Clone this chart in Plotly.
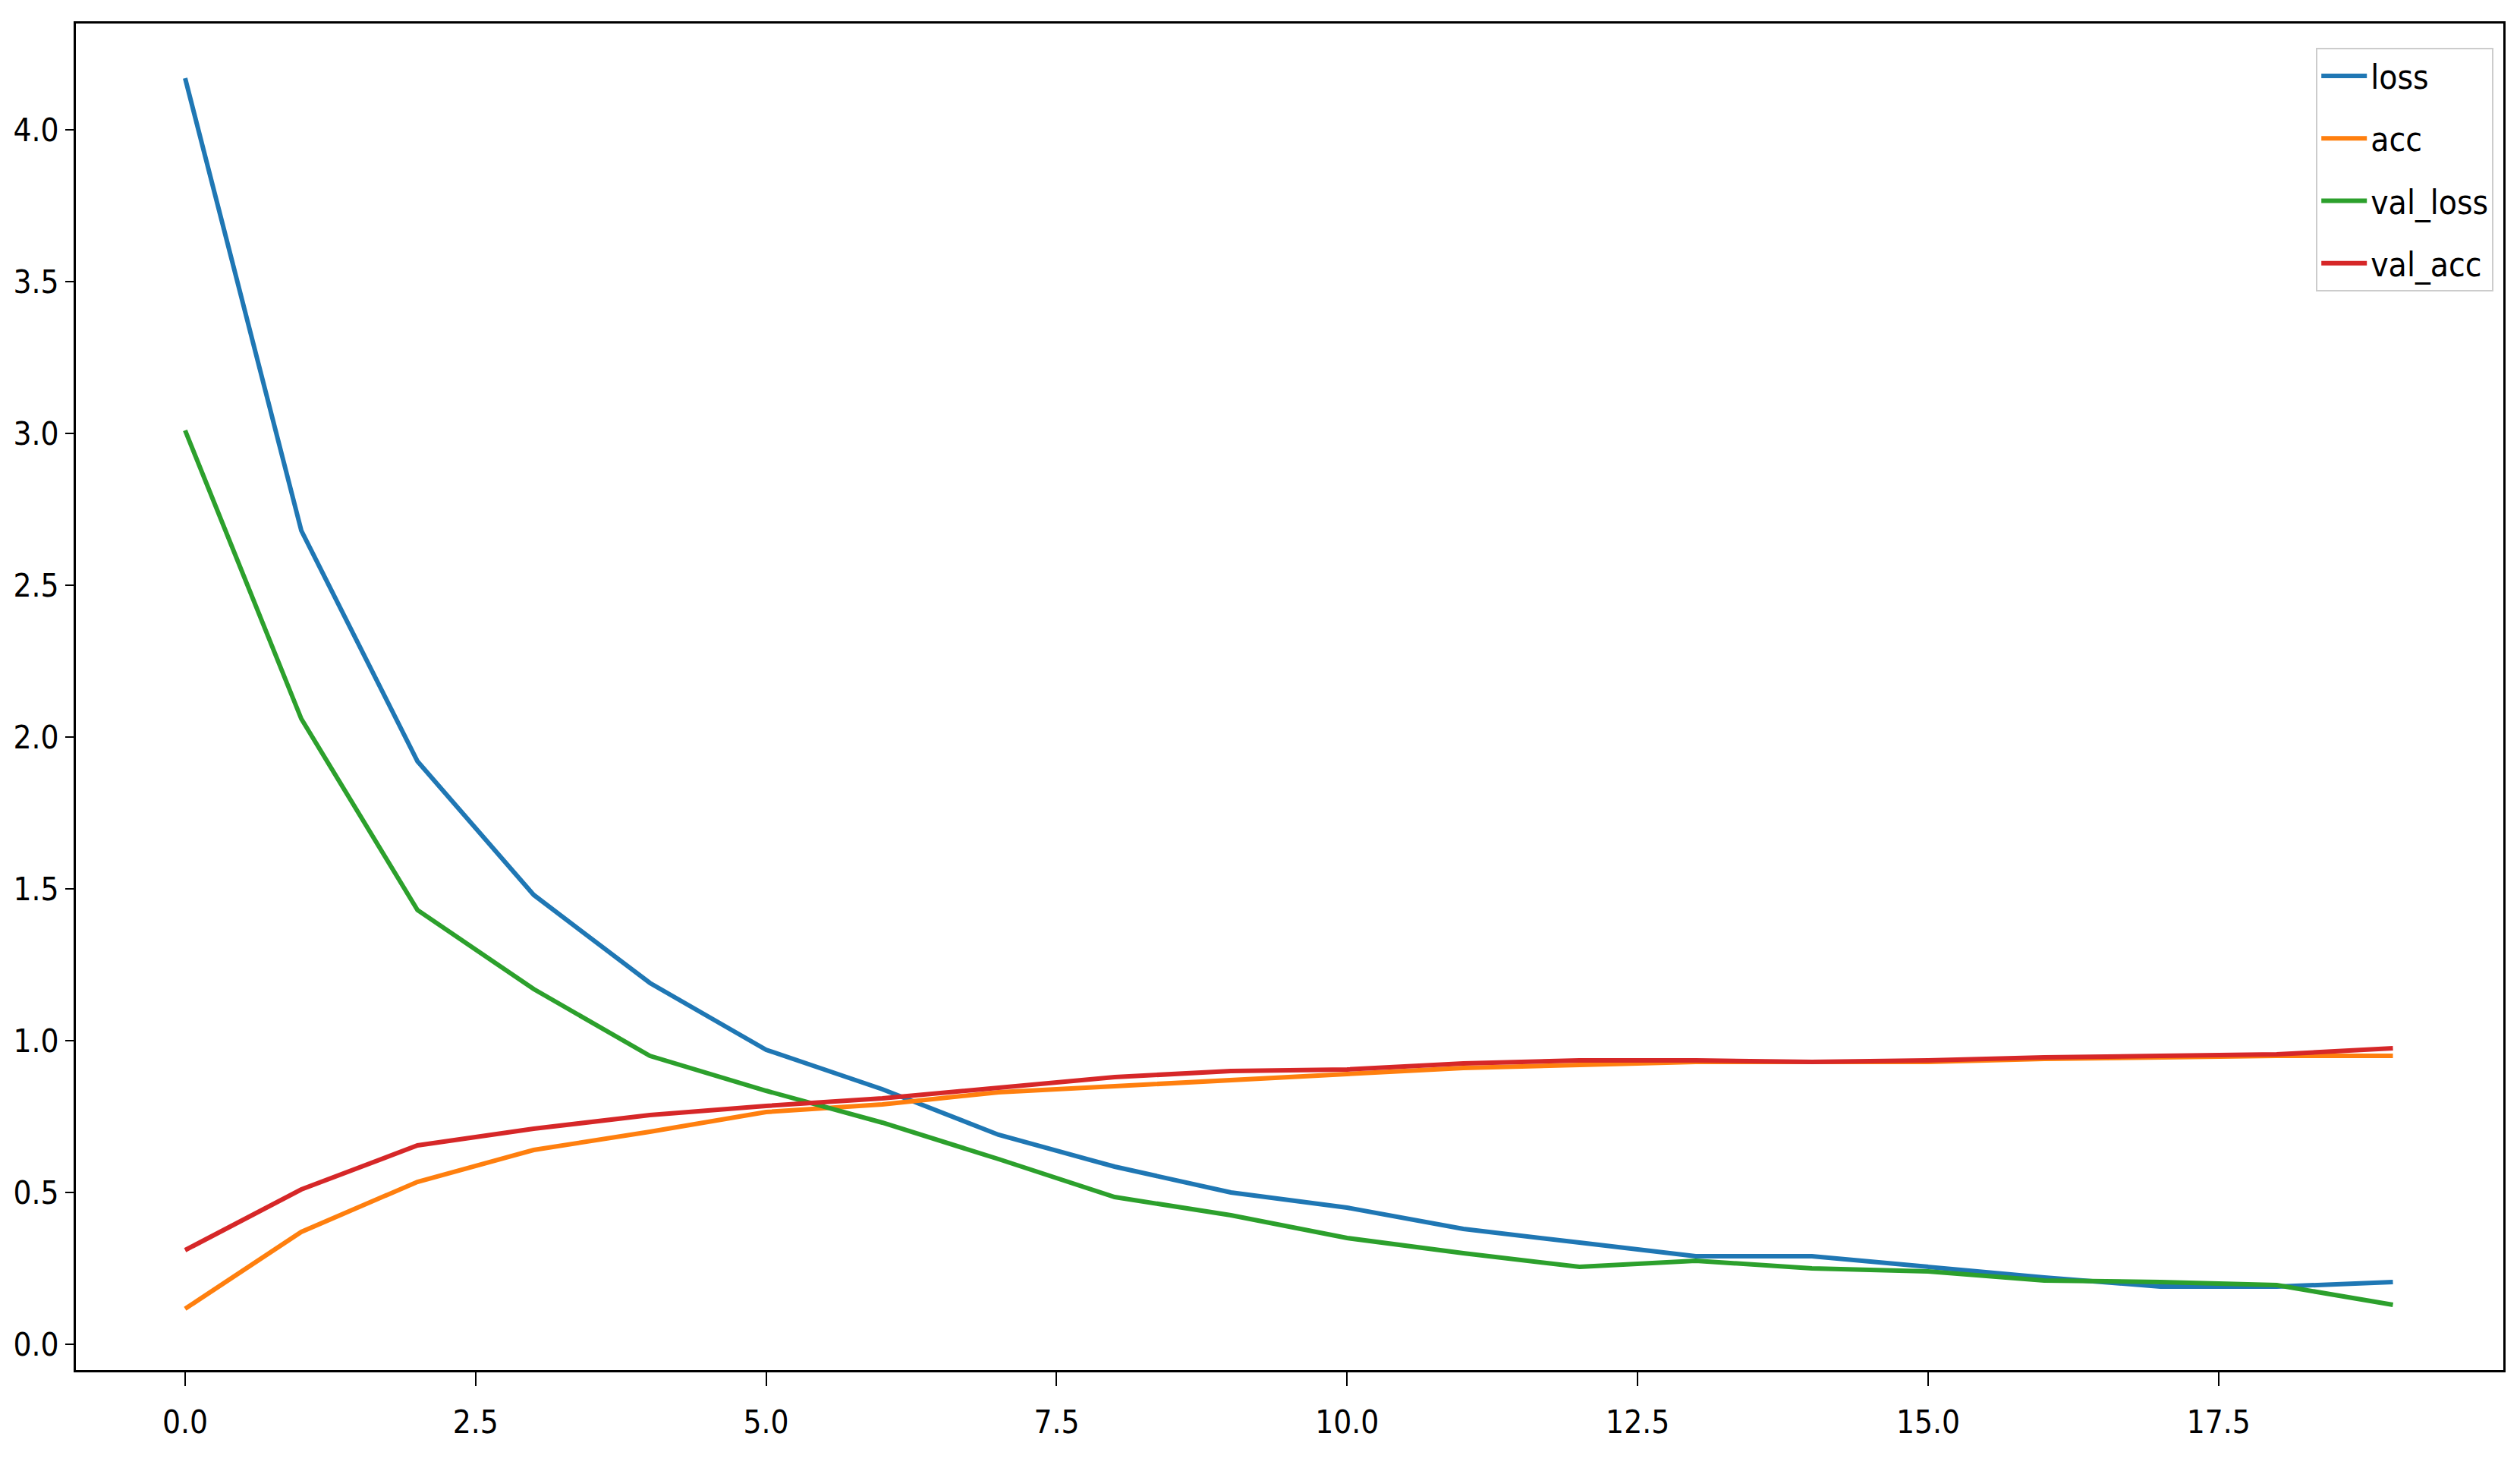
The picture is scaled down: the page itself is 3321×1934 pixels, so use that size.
import plotly.graph_objects as go

epochs = list(range(20))

loss = [4.17, 2.68, 1.92, 1.48, 1.19, 0.97, 0.84, 0.69, 0.585, 0.50,
        0.45, 0.38, 0.335, 0.29, 0.29, 0.255, 0.22, 0.19, 0.19, 0.205]
acc = [0.117, 0.37, 0.535, 0.64, 0.70, 0.765, 0.79, 0.83, 0.85, 0.87,
       0.89, 0.91, 0.92, 0.93, 0.93, 0.93, 0.94, 0.945, 0.95, 0.95]
val_loss = [3.01, 2.06, 1.43, 1.17, 0.95, 0.835, 0.73, 0.61, 0.485, 0.425,
            0.35, 0.30, 0.255, 0.275, 0.25, 0.24, 0.21, 0.205, 0.195, 0.13]
val_acc = [0.31, 0.51, 0.655, 0.71, 0.755, 0.785, 0.81, 0.845, 0.88, 0.90,
           0.905, 0.925, 0.935, 0.935, 0.93, 0.935, 0.945, 0.95, 0.955, 0.975]

series = {'loss': loss, 'acc': acc, 'val_loss': val_loss, 'val_acc': val_acc}
colors = {'loss': '#1f77b4', 'acc': '#ff7f0e', 'val_loss': '#2ca02c', 'val_acc': '#d62728'}

FONT = "DejaVu Sans Condensed, DejaVu Sans, sans-serif"

fig = go.Figure()
for name, ys in series.items():
    # one legendgroup per trace so tracegroupgap spreads the legend rows
    fig.add_trace(go.Scatter(
        x=epochs, y=ys, name=name, mode='lines', legendgroup=name,
        line=dict(color=colors[name], width=6)))

# matplotlib-like axes: black frame, outside ticks, no grid
axis_style = dict(showgrid=False, zeroline=False, showline=True, linecolor='black',
                  linewidth=3, mirror=True, ticks='outside', tickwidth=2,
                  tickcolor='black', tickformat='.1f', automargin=False,
                  tickfont=dict(family=FONT, size=42, color='black'))

fig.update_xaxes(range=[-0.94, 19.95], dtick=2.5, tick0=0, ticklen=18,
                 ticklabelstandoff=12, **axis_style)
fig.update_yaxes(range=[-0.085, 4.35], dtick=0.5, tick0=0, ticklen=11, **axis_style)

# page body adds an 8px offset, so margins are shifted to compensate
fig.update_layout(
    width=3321, height=1934,
    margin=dict(l=92, r=30, t=23, b=137),
    plot_bgcolor='white', paper_bgcolor='white',
    font=dict(family=FONT, size=42, color='black'),
    legend=dict(x=0.996, y=0.982, xanchor='right', yanchor='top',
                bgcolor='rgba(255,255,255,0.8)', bordercolor='#cccccc', borderwidth=2,
                tracegroupgap=22, itemwidth=60,
                font=dict(family=FONT, size=44, color='black')),
    showlegend=True,
)

fig.write_html("out.html")
